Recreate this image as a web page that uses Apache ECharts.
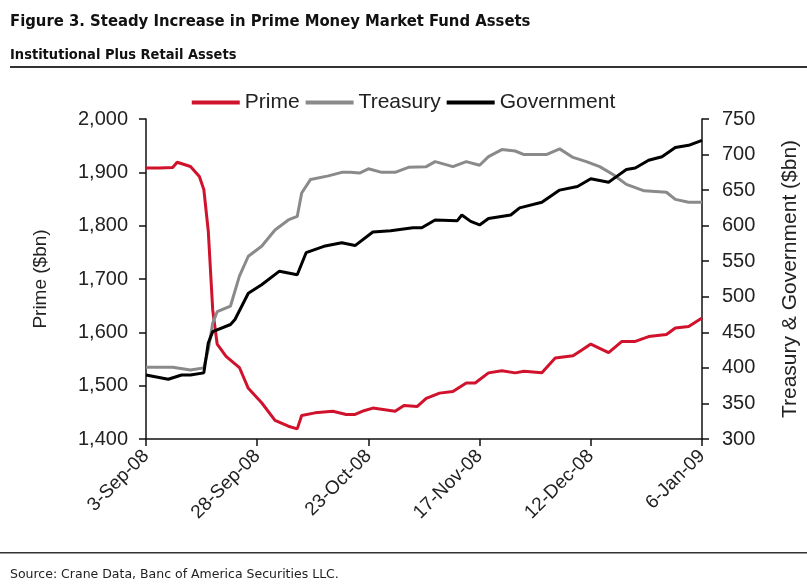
<!DOCTYPE html>
<html>
<head>
<meta charset="utf-8">
<script src="https://cdn.jsdelivr.net/npm/echarts@6/dist/echarts.min.js"></script>
<style>
    html, body {margin: 0; padding: 0; background: #fff;}
    #chart {width: 807px; height: 585px;}
</style>
</head>
<body>
<div id="chart"></div>
<script>
// x values are days after 3-Sep-08
var xTickLabels = ['3-Sep-08', '28-Sep-08', '23-Oct-08', '17-Nov-08', '12-Dec-08', '6-Jan-09'];

var primeDays = [0, 3, 6, 7, 10, 12, 13, 14, 15, 16, 18, 21, 23, 26, 29, 32, 34, 35, 38, 42, 45, 47, 49, 51, 56, 58, 61, 63, 66, 69, 72, 74, 77, 80, 83, 85, 89, 92, 96, 98, 100, 104, 107, 110, 113, 117, 119, 122, 125];
var primeVals = [1908, 1908, 1909, 1919, 1911, 1892, 1868, 1790, 1642, 1578, 1555, 1534, 1495, 1468, 1435, 1424, 1419, 1444, 1449, 1452, 1446, 1446, 1453, 1458, 1452, 1463, 1461, 1476, 1486, 1489, 1505, 1505, 1524, 1528, 1524, 1527, 1524, 1552, 1556, 1567, 1578, 1562, 1583, 1583, 1592, 1596, 1608, 1611, 1627];

var treasuryDays = [0, 6, 10, 13, 14, 15, 16, 19, 21, 23, 26, 29, 32, 34, 35, 37, 41, 44, 46, 48, 50, 53, 56, 59, 63, 65, 69, 72, 75, 77, 80, 83, 85, 90, 93, 96, 99, 102, 105, 108, 112, 117, 119, 122, 125];
var treasuryVals = [401, 401, 397, 400, 426, 463, 479, 487, 529, 557, 571, 594, 608, 613, 646, 665, 670, 675, 675, 674, 680, 675, 675, 682, 683, 690, 683, 690, 685, 697, 707, 705, 700, 700, 708, 696, 690, 683, 672, 658, 649, 647, 637, 633, 633];

var govDays = [0, 5, 8, 10, 13, 14, 15, 19, 20, 23, 26, 30, 34, 36, 40, 44, 47, 51, 55, 60, 62, 65, 70, 71, 73, 75, 77, 82, 84, 89, 93, 97, 100, 104, 106, 108, 110, 113, 116, 119, 122, 125];
var govVals = [390, 384, 390, 390, 393, 435, 451, 461, 468, 505, 517, 536, 531, 562, 571, 576, 572, 591, 593, 597, 597, 608, 607, 615, 606, 601, 610, 615, 625, 633, 650, 655, 666, 661, 670, 679, 681, 692, 697, 710, 713, 720];

function pairs(xs, ys) {
    return xs.map(function (x, i) { return [x, ys[i]]; });
}

var chart = echarts.init(document.getElementById('chart'));
var textColor = '#222';
var font = 'Arial, "Liberation Sans", sans-serif';
var headFont = '"DejaVu Sans Condensed", "DejaVu Sans", sans-serif';

chart.setOption({
    animation: false,
    backgroundColor: '#fff',
    title: [{
        text: 'Figure 3. Steady Increase in Prime Money Market Fund Assets',
        left: 10, top: 13, padding: 0,
        textStyle: {fontFamily: headFont, fontWeight: 'bold', fontSize: 16.5, color: '#111'}
    }, {
        text: 'Institutional Plus Retail Assets',
        left: 10, top: 48, padding: 0,
        textStyle: {fontFamily: headFont, fontWeight: 'bold', fontSize: 14.5, color: '#111'}
    }, {
        text: 'Source: Crane Data, Banc of America Securities LLC.',
        left: 10, top: 568, padding: 0,
        textStyle: {fontFamily: '"DejaVu Sans", sans-serif', fontWeight: 'normal', fontSize: 12.5, color: '#222'}
    }],
    graphic: [{
        type: 'rect', shape: {x: 10, y: 66, width: 797, height: 2}, style: {fill: '#333'}
    }, {
        type: 'rect', shape: {x: 0, y: 552, width: 807, height: 1.5}, style: {fill: '#333'}
    }],
    legend: {
        top: 87,
        left: 'center',
        itemWidth: 48,
        itemHeight: 4,
        itemGap: 6,
        icon: 'rect',
        textStyle: {fontFamily: font, fontSize: 21, color: textColor},
        data: ['Prime', 'Treasury', 'Government']
    },
    grid: {left: 146, right: 105, top: 119, bottom: 146, containLabel: false, outerBoundsMode: 'none'},
    xAxis: {
        type: 'value',
        min: 0, max: 125, interval: 25,
        splitLine: {show: false},
        axisLine: {lineStyle: {color: '#111', width: 1.5}},
        axisTick: {length: 7, lineStyle: {color: '#111', width: 1.5}},
        axisLabel: {
            rotate: 45, margin: 14,
            fontFamily: font, fontSize: 19, color: textColor,
            formatter: function (v) { return xTickLabels[Math.round(v / 25)]; }
        }
    },
    yAxis: [{
        type: 'value',
        min: 1400, max: 2000, interval: 100,
        name: 'Prime ($bn)',
        nameLocation: 'middle',
        nameGap: 96,
        nameTextStyle: {fontFamily: font, fontSize: 19, color: textColor},
        splitLine: {show: false},
        axisLine: {show: true, lineStyle: {color: '#111', width: 1.5}},
        axisTick: {show: true, length: 7, lineStyle: {color: '#111', width: 1.5}},
        axisLabel: {
            margin: 18, fontFamily: font, fontSize: 20, color: textColor,
            formatter: function (v) { return v.toString().replace(/\B(?=(\d{3})+(?!\d))/g, ','); }
        }
    }, {
        type: 'value',
        min: 300, max: 750, interval: 50,
        position: 'right',
        name: 'Treasury & Government ($bn)',
        nameLocation: 'middle',
        nameGap: 78,
        nameRotate: 90,
        nameTextStyle: {fontFamily: font, fontSize: 21, color: textColor},
        splitLine: {show: false},
        axisLine: {show: true, lineStyle: {color: '#111', width: 1.5}},
        axisTick: {show: true, length: 7, lineStyle: {color: '#111', width: 1.5}},
        axisLabel: {margin: 20, fontFamily: font, fontSize: 20, color: textColor}
    }],
    series: [{
        name: 'Prime',
        type: 'line',
        yAxisIndex: 0,
        showSymbol: false,
        color: '#d0122c',
        lineStyle: {width: 3, color: '#d0122c'},
        data: pairs(primeDays, primeVals)
    }, {
        name: 'Treasury',
        type: 'line',
        yAxisIndex: 1,
        showSymbol: false,
        color: '#8a8a8a',
        lineStyle: {width: 3, color: '#8a8a8a'},
        data: pairs(treasuryDays, treasuryVals)
    }, {
        name: 'Government',
        type: 'line',
        yAxisIndex: 1,
        showSymbol: false,
        color: '#000',
        lineStyle: {width: 3, color: '#000'},
        data: pairs(govDays, govVals)
    }]
});
</script>
</body>
</html>
